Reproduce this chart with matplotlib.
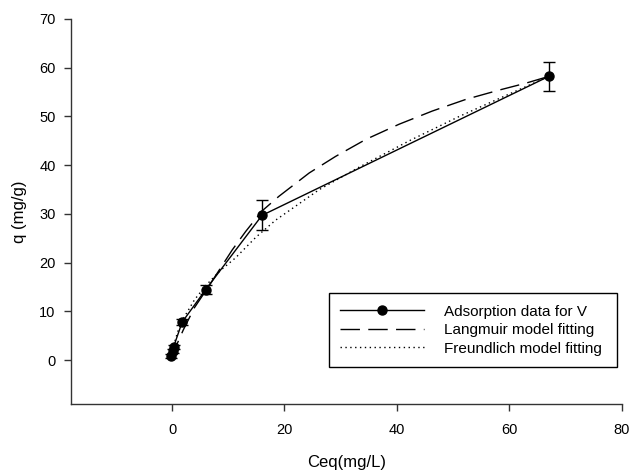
import numpy as np
import matplotlib
matplotlib.use('Agg')
import matplotlib.pyplot as plt

plt.rcParams['font.family'] = ['Liberation Sans', 'DejaVu Sans']

# measured equilibrium data (Ceq in mg/L, q in mg/g) with std errors
ceq = [-0.2, 0.1, 0.3, 1.8, 6.0, 16.0, 67.0]
q = [0.8, 1.8, 2.8, 7.8, 14.5, 29.7, 58.2]
q_err = [0.4, 0.4, 0.4, 0.6, 1.0, 3.1, 2.9]

# Langmuir fit curve
lang_c = [-0.2, 0.3, 1.0, 2.0, 4.0, 6.5, 10.7, 13.1, 16.0, 19.0, 24.4, 29.1,
          34.5, 40.4, 46.3, 52.3, 58.2, 62.9, 67.0]
lang_q = [0.3, 1.6, 3.6, 6.2, 10.8, 15.1, 22.6, 26.4, 30.6, 33.6, 38.4, 41.8,
          45.3, 48.4, 51.1, 53.5, 55.4, 56.8, 58.2]

# Freundlich fit curve
freu_c = [0.0, 0.3, 1.0, 2.0, 4.0, 6.0, 8.5, 11.3, 14.9, 18.4, 26.2, 33.3,
          42.2, 51.1, 60.0, 67.0]
freu_q = [0.0, 3.0, 5.8, 8.5, 12.4, 15.3, 18.3, 21.0, 25.2, 28.7, 35.0, 39.6,
          45.0, 50.0, 54.6, 58.2]

fig = plt.figure(figsize=(6.32, 4.71), dpi=100)
ax = fig.add_axes([0.112, 0.142, 0.872, 0.818])

ax.errorbar(ceq, q, yerr=q_err, fmt='none', ecolor='black', elinewidth=1.0,
            capsize=4.5, capthick=1.0, zorder=3)
ax.plot(ceq, q, '-', color='black', lw=1.0, marker='o', markersize=6.5,
        label='Adsorption data for V', zorder=4)
ax.plot(lang_c, lang_q, color='black', lw=1.0, dashes=(14, 6),
        label='Langmuir model fitting', zorder=2)
ax.plot(freu_c, freu_q, color='black', lw=1.0, linestyle=(0, (1, 2.5)),
        label='Freundlich model fitting', zorder=2)

ax.set_xlim(-18, 80)
ax.set_ylim(-9, 70)
ax.set_xticks([0, 20, 40, 60, 80])
ax.set_yticks([0, 10, 20, 30, 40, 50, 60, 70])
ax.spines['top'].set_visible(False)
ax.spines['right'].set_visible(False)
for s in ['left', 'bottom']:
    ax.spines[s].set_color('#333333')
    ax.spines[s].set_linewidth(1.0)
ax.tick_params(direction='out', length=5, width=1.0, color='#333333',
               labelsize=10.5, pad=6)
ax.tick_params(axis='x', pad=8.5)

ax.set_xlabel('Ceq(mg/L)', fontsize=12, labelpad=13)
ax.set_ylabel('q (mg/g)', fontsize=12, labelpad=9)

leg = ax.legend(loc='lower left', bbox_to_anchor=(0.468, 0.096, 0.523, 0.205),
                mode='expand', borderaxespad=0, fancybox=False,
                edgecolor='black', fontsize=11, handlelength=5.5,
                handletextpad=1.3, labelspacing=0.3, borderpad=0.75,
                framealpha=1)
leg.get_frame().set_linewidth(1.0)

fig.savefig('out.png', dpi=100)
